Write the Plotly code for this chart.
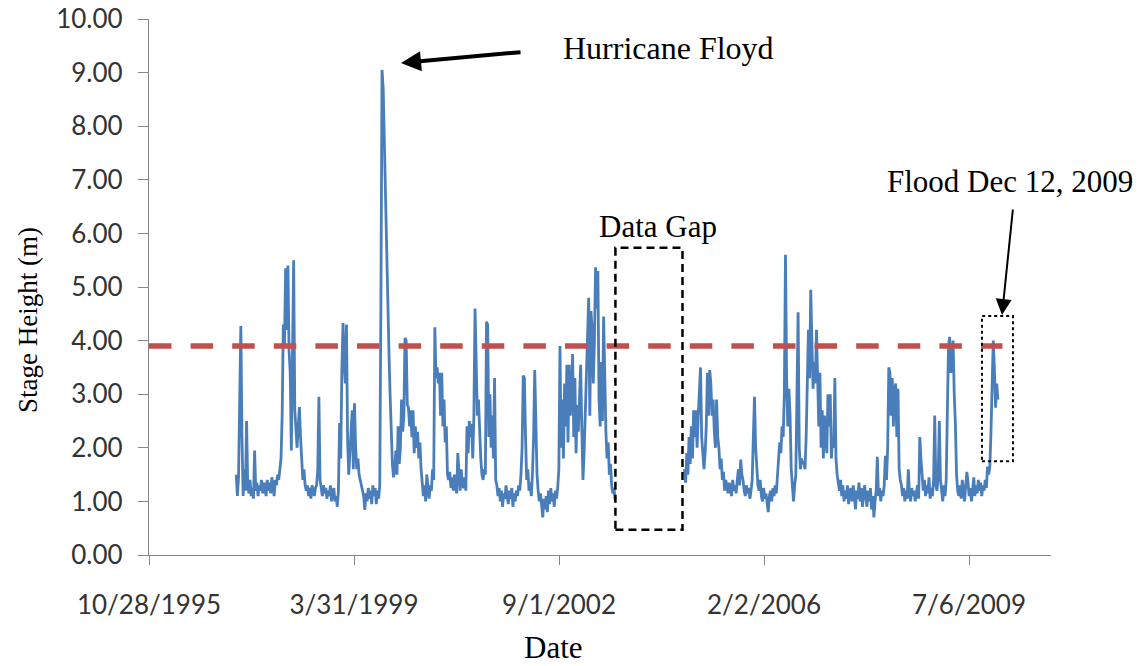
import pandas as pd
import plotly.graph_objects as go

# Weekly stage readings (m), two record periods separated by a data gap
record1_start = "1997-04-12"
stage_record1 = [
    1.50, 1.10, 1.45, 3.00, 4.27, 2.20, 1.10, 1.60, 1.20, 2.50,
    1.30, 1.15, 1.40, 1.10, 1.25, 1.05, 1.95, 1.20, 1.35, 1.10,
    1.30, 1.20, 1.40, 1.15, 1.35, 1.25, 1.10, 1.40, 1.20, 1.35,
    1.15, 1.45, 1.25, 1.10, 1.40, 1.30, 1.50, 1.40,
    1.60, 1.80, 2.60, 4.30, 3.90, 5.35, 4.20, 5.40, 3.80, 3.40,
    1.95, 3.60, 5.50, 2.70, 2.30, 2.00, 2.40, 2.76, 2.20, 1.70,
    1.40, 1.60, 1.30, 1.20, 1.30, 1.10, 1.25, 1.05, 1.30, 1.20, 1.10, 1.25,
    1.30, 1.60, 2.95, 1.40, 1.20, 1.10, 1.30, 1.15, 1.25, 1.05,
    1.20, 1.10, 1.30, 1.00, 1.15, 1.25, 1.00, 1.10, 0.90, 1.20,
    2.46, 1.80, 3.45, 4.33, 3.60, 3.20, 4.30, 2.15, 1.50, 1.90,
    2.20, 2.70, 1.60, 2.83, 2.00, 1.60, 1.80, 1.50, 1.40, 1.30,
    1.20, 1.10, 0.84, 1.15, 1.00, 1.25, 1.05, 1.20, 0.95, 1.30,
    1.10, 1.25, 0.95, 1.20, 1.05, 1.30, 4.70,
    9.05, 8.70, 7.60, 6.50, 5.50, 4.60, 3.80, 3.00, 2.30, 1.70, 1.45,
    1.60, 1.95, 1.50, 2.40, 1.70, 2.00, 2.90, 2.30, 2.60, 4.05, 4.00, 2.80,
    2.75, 2.40, 2.70, 2.20, 2.70, 1.90, 2.40, 2.00, 2.30, 1.80, 2.10, 1.60,
    1.40, 1.10, 1.30, 1.00, 1.50, 1.20, 1.05, 1.30, 1.20, 1.60, 1.40,
    4.25, 3.30, 3.50, 3.20, 3.40, 2.60, 3.40, 2.40, 2.90, 2.10, 2.40,
    1.50, 1.40, 1.55, 1.25, 1.45, 1.20, 1.50, 1.30, 1.15, 1.90, 1.40,
    1.20, 1.60, 1.30, 1.25, 1.45, 1.20, 2.40, 1.90, 2.50, 2.20, 2.45,
    1.80, 2.60, 4.60, 3.30, 2.60, 2.90, 2.10, 1.80, 1.50, 1.40, 1.60,
    1.50, 4.35, 4.30, 2.20, 3.00, 2.00, 2.60, 1.80, 3.30, 1.40,
    1.30, 1.10, 1.25, 1.00, 1.20, 0.90, 1.15, 1.05, 1.30, 1.10, 0.95,
    1.20, 1.05, 1.25, 0.90, 1.15, 1.00, 1.20, 1.10, 1.30, 1.20, 1.50, 2.00,
    3.35, 3.30, 2.20, 1.40, 1.60, 1.20, 1.35, 1.10, 1.50, 2.20,
    3.45, 2.00, 1.50, 1.20, 1.00, 1.15, 0.90, 0.70, 1.05, 0.85,
    1.10, 0.80, 1.20, 0.95, 1.25, 1.00, 1.15, 0.90, 1.20, 1.05, 1.25, 1.60,
    3.90, 2.00, 2.90, 1.80, 3.20, 2.40, 3.55, 2.10, 3.55, 2.60, 3.00, 3.75,
    2.20, 3.30, 1.90, 2.80, 2.30, 3.10, 3.55, 2.40, 1.40, 1.90, 2.60,
    3.40, 3.95, 4.80, 2.60, 4.55, 4.20, 3.20, 4.00, 5.37, 4.60, 5.30,
    2.90, 2.40, 3.60, 2.50, 4.45, 3.10, 2.30, 1.80, 2.10, 1.50, 1.70, 1.30, 1.15, 1.25, 1.03,
]

record2_start = "2004-10-05"
stage_record2 = [
    1.60, 1.35, 1.90, 1.50, 2.20, 1.70, 2.40, 1.80, 2.70, 2.20,
    2.70, 2.00, 2.60, 3.20, 3.50, 2.20, 1.80, 1.60, 1.90, 2.40,
    3.40, 2.60, 3.45, 3.20, 2.60, 2.90, 2.30, 2.00, 2.90, 2.20,
    2.00, 1.60, 1.80, 1.40, 1.55, 1.20, 1.40, 1.30, 1.15, 1.35,
    1.25, 1.10, 1.40, 1.20, 1.30, 1.15, 1.40, 1.60, 1.30, 1.78,
    1.50, 1.40, 1.20, 1.10, 1.30, 1.15, 1.25, 1.05, 1.20, 1.40,
    2.20, 2.95, 2.00, 1.60, 1.30, 1.20, 1.40, 1.10, 1.00, 1.25,
    1.05, 1.15, 0.95, 0.80, 1.10, 1.20, 1.00, 1.25, 1.10, 1.30,
    1.15, 1.40, 1.80, 2.10, 1.90, 2.40, 2.20, 3.00, 5.60, 3.30,
    2.40, 3.10, 2.60, 1.60, 1.20, 1.00, 1.30, 1.50, 3.00, 4.53,
    2.00, 1.60, 1.80, 1.70, 1.75, 1.60, 2.20, 3.20, 4.20, 3.30,
    4.95, 4.00, 3.10, 3.60, 3.20, 4.20, 3.00, 2.40, 3.40, 2.00,
    2.70, 1.80, 2.60, 2.20, 1.90, 3.00, 2.40, 3.00, 1.80, 2.20,
    2.00, 3.30, 1.80, 1.50, 1.35, 1.20, 1.40, 1.10, 1.30, 1.00,
    1.20, 1.05, 1.30, 0.95, 1.15, 1.25, 1.00, 1.30, 1.10, 0.85,
    1.20, 1.05, 1.35, 1.00, 1.25, 0.90, 1.15, 1.30, 1.05, 0.90,
    1.20, 1.00, 1.25, 0.85, 1.10, 0.70, 1.00, 1.20, 1.83, 1.10,
    1.25, 1.00, 1.20, 1.10, 1.30, 1.85, 1.40, 2.00, 3.50, 3.40,
    2.60, 3.30, 2.40, 3.10, 3.20, 2.20, 3.10, 1.60, 1.40, 1.30,
    1.10, 1.25, 1.00, 1.20, 1.05, 1.60, 1.15, 1.00, 1.25, 1.10,
    1.20, 1.00, 1.15, 1.30, 1.05, 2.20, 1.80, 1.50, 1.20, 1.40,
    1.10, 1.30, 1.15, 1.45, 1.05, 1.25, 1.10, 1.40, 2.60, 1.30,
    1.20, 1.50, 2.50, 1.40, 1.20, 1.00, 1.30, 1.10, 1.40, 2.40,
    3.90, 4.07, 3.40, 3.60, 4.00, 3.00, 2.45, 1.50, 1.20, 1.10,
    1.30, 1.05, 1.40, 1.20, 1.00, 1.30, 1.55, 1.35, 1.10, 1.25,
    1.00, 1.20, 1.45, 1.10, 1.30, 1.15, 1.40, 1.20, 1.35, 1.10,
    1.30, 1.20, 1.40, 1.25, 1.65, 1.50, 1.65, 2.30, 3.40, 4.00,
    3.45, 2.75, 3.20, 2.90,
]

# Flood stage reference line
flood_stage = 3.9
flood_line_dates = ["1995-10-28", "2010-01-26"]

# Date axis ticks every 1250 days from 10/28/1995
axis_start = "1995-10-28"
axis_end = "2010-11-18"
tick_step_days = 1250

dates1 = pd.date_range(record1_start, periods=len(stage_record1), freq="7D")
dates2 = pd.date_range(record2_start, periods=len(stage_record2), freq="7D")
x_all = list(dates1) + [None] + list(dates2)
y_all = stage_record1 + [None] + stage_record2

fig = go.Figure()
fig.add_trace(go.Scatter(
    x=x_all, y=y_all, mode="lines",
    line=dict(color="#4A7EBB", width=2.8),
    connectgaps=False, showlegend=False, hoverinfo="x+y",
))
fig.add_trace(go.Scatter(
    x=flood_line_dates, y=[flood_stage, flood_stage], mode="lines",
    line=dict(color="#C0504D", width=5.5, dash="22.5px,19.1px"),
    showlegend=False,
))

serif = "Liberation Serif, Times New Roman, serif"
sans = "Lato, Carlito, Calibri, sans-serif"

fig.update_layout(
    width=1143, height=666,
    margin=dict(l=149, r=92, t=19, b=111, autoexpand=False),
    paper_bgcolor="white", plot_bgcolor="white",
    showlegend=False,
)
fig.update_xaxes(
    type="date", range=[axis_start, axis_end], automargin=False,
    tickmode="linear", tick0=axis_start, dtick=tick_step_days * 86400000,
    tickformat="%-m/%-d/%Y",
    showgrid=False, zeroline=False,
    showline=True, linecolor="#868686", linewidth=1.3,
    ticks="outside", ticklen=9, tickcolor="#868686", tickwidth=1.3,
    tickfont=dict(family=sans, size=26, color="#333333"),
    ticklabelstandoff=18,
)
fig.update_yaxes(
    range=[0, 10], automargin=False,
    tickmode="linear", tick0=0, dtick=1, tickformat=".2f",
    showgrid=False, zeroline=False,
    showline=True, linecolor="#868686", linewidth=1.3,
    ticks="outside", ticklen=10, tickcolor="#868686", tickwidth=1.3,
    tickfont=dict(family=sans, size=26, color="#333333"),
    ticklabelstandoff=10,
)

# Axis titles
fig.add_annotation(xref="paper", yref="paper", x=-0.1341, y=0.4384,
                   text="Stage Height (m)", textangle=-90, showarrow=False,
                   xanchor="center", yanchor="middle",
                   font=dict(family=serif, size=27, color="black"))
fig.add_annotation(xref="paper", yref="paper", x=0.4479, y=-0.1735,
                   text="Date", showarrow=False,
                   xanchor="center", yanchor="middle",
                   font=dict(family=serif, size=31, color="black"))

# Hurricane Floyd callout
fig.add_annotation(xref="paper", yref="paper", x=0.5754, y=0.9459,
                   text="Hurricane Floyd", showarrow=False,
                   xanchor="center", yanchor="middle",
                   font=dict(family=serif, size=32, color="black"))
fig.add_annotation(xref="paper", yref="paper", x=0.2794, y=0.9179,
                   ax=121, ay=-11, text="", showarrow=True,
                   arrowhead=2, arrowsize=1, arrowwidth=4, arrowcolor="black")

# Data gap marker
fig.add_shape(type="rect", xref="x", yref="y",
              x0="2003-08-11", x1="2004-09-23", y0=0.47, y1=5.73,
              line=dict(color="black", width=2.5, dash="8px,5px"))
fig.add_annotation(xref="paper", yref="paper", x=0.5643, y=0.6138,
                   text="Data Gap", showarrow=False,
                   xanchor="center", yanchor="middle",
                   font=dict(family=serif, size=31, color="black"))

# December 2009 flood marker
fig.add_shape(type="rect", xref="x", yref="y",
              x0="2009-09-23", x1="2010-03-31", y0=1.75, y1=4.46,
              line=dict(color="black", width=2, dash="dot"))
fig.add_annotation(xref="paper", yref="paper", x=0.9545, y=0.6959,
                   text="Flood Dec 12, 2009", showarrow=False,
                   xanchor="center", yanchor="middle",
                   font=dict(family=serif, size=31, color="black"))
fig.add_annotation(xref="paper", yref="paper", x=0.9457, y=0.4478,
                   ax=11, ay=-107, text="", showarrow=True,
                   arrowhead=2, arrowsize=1.6, arrowwidth=2, arrowcolor="black")

fig.write_html("out.html")
